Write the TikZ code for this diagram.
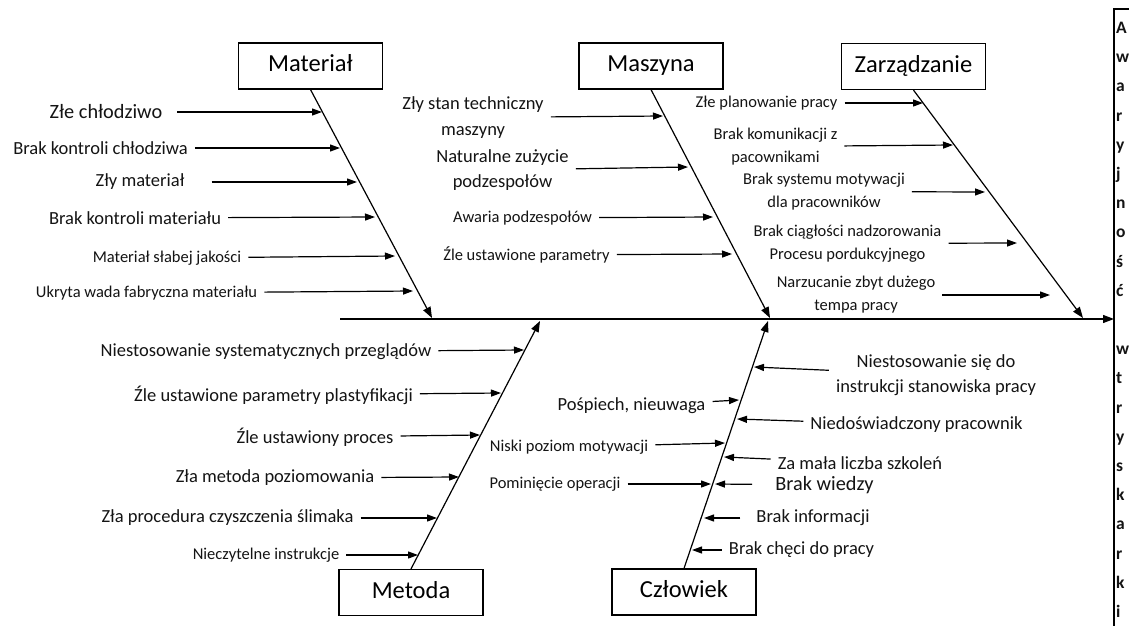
\documentclass[tikz,border=0pt]{standalone}
\usepackage{fontspec}
\setmainfont{Carlito}
\usetikzlibrary{arrows.meta,positioning}
\definecolor{inkGray}{RGB}{20,20,20}

\begin{document}
\begin{tikzpicture}[x=1pt,y=-1pt,
  category/.style={draw, line width=1.2pt, minimum width=144pt, minimum height=46pt, inner sep=0pt, text height=16pt, text depth=5pt, font=\fontsize{24.5}{28}\selectfont},
  bone/.style={line width=1.2pt, -{Triangle[length=11pt,width=8pt]}},
  causebig/.style={inner xsep=7pt, inner ysep=1pt, text=inkGray, font=\fontsize{20.3}{25}\selectfont},
  cause/.style={inner xsep=7pt, inner ysep=1pt, align=center, text=inkGray, font=\fontsize{18.5}{25.5}\selectfont},
  causesmall/.style={inner xsep=7pt, inner ysep=1pt, align=center, text=inkGray, font=\fontsize{16.5}{23}\selectfont},
  causearrow/.style={line width=1.2pt, -{Triangle[length=10pt,width=7pt]}}
]

% Frame of the picture
\useasboundingbox (0,0) rectangle (1129,626);
\fill[white] (0,0) rectangle (1129,626);

% Spine
\coordinate (tail) at (340,319);
\coordinate (head) at (1114,319);
\draw[bone] (tail) -- (head);

% Category boxes
\node[category] (mat) at (310.5,66) {Materiał};
\node[category] (mas) at (651,66) {Maszyna};
\node[category] (zar) at (913.5,66.5) {Zarządzanie};
\node[category] (met) at (411,592.5) {Metoda};
\node[category] (czl) at (684,592) {Człowiek};

% Bones towards the spine
\coordinate (matend) at (432,318);
\coordinate (masend) at (770,318);
\coordinate (zarend) at (1083,318);
\coordinate (metend) at (540,321);
\coordinate (czlend) at (768,321);
\draw[bone] (mat.south) -- (matend);
\draw[bone] (mas.south) -- (masend);
\draw[bone] (zar.south) -- (zarend);
\draw[bone] (met.north) -- (metend);
\draw[bone] (czl.north) -- (czlend);

% Materiał causes
\node[causebig] (mat1) at (106,112) {Złe chłodziwo};
\node[cause] (mat2) at (100.5,148) {Brak kontroli chłodziwa};
\node[cause] (mat3) at (140,182) {Zły materiał};
\node[cause] (mat4) at (135,218) {Brak kontroli materiału};
\node[causesmall] (mat5) at (167,258) {Materiał słabej jakości};
\node[causesmall] (mat6) at (146.5,293) {Ukryta wada fabryczna materiału};
\coordinate (pmat1) at (322,112);
\coordinate (pmat2) at (340,148);
\coordinate (pmat3) at (357,182);
\coordinate (pmat4) at (375,217);
\coordinate (pmat5) at (395,256);
\coordinate (pmat6) at (413,291);
\draw[causearrow, shorten <=8pt] (mat1) -- (pmat1);
\draw[causearrow] (mat2) -- (pmat2);
\draw[causearrow, shorten <=20pt] (mat3) -- (pmat3);
\draw[causearrow] (mat4) -- (pmat4);
\draw[causearrow] (mat5) -- (pmat5);
\draw[causearrow] (mat6) -- (pmat6);

% Maszyna causes
\node[cause] (mas1) at (473,117.5) {Zły stan techniczny\\maszyny};
\node[cause] (mas2) at (502.5,170) {Naturalne zużycie\\podzespołów};
\node[causesmall] (mas3) at (522.5,218) {Awaria podzespołów};
\node[causesmall] (mas4) at (526.5,255) {Źle ustawione parametry};
\coordinate (pmas1) at (663,116);
\coordinate (pmas2) at (688,167);
\coordinate (pmas3) at (713,217);
\coordinate (pmas4) at (732,254);
\foreach \i in {1,...,4} {
  \draw[causearrow] (mas\i) -- (pmas\i);
}

% Zarządzanie causes
\node[causesmall] (zar1) at (766.5,103) {Złe planowanie pracy};
\node[causesmall] (zar2) at (775.5,146.5) {Brak komunikacji z\\pacownikami};
\node[causesmall] (zar3) at (824,191.5) {Brak systemu motywacji\\dla pracowników};
\node[causesmall] (zar4) at (847.5,243.5) {Brak ciągłości nadzorowania\\Procesu pordukcyjnego};
\node[causesmall] (zar5) at (856,295) {Narzucanie zbyt dużego\\tempa pracy};
\coordinate (pzar1) at (923,103);
\coordinate (pzar2) at (953,145);
\coordinate (pzar3) at (985,192);
\coordinate (pzar4) at (1017,243);
\coordinate (pzar5) at (1050,295);
\foreach \i in {1,...,5} {
  \draw[causearrow] (zar\i) -- (pzar\i);
}

% Metoda causes
\node[cause] (met1) at (266,352) {Niestosowanie systematycznych przeglądów};
\node[cause] (met2) at (273.5,395) {Źle ustawione parametry plastyfikacji};
\node[cause] (met3) at (315,437) {Źle ustawiony proces};
\node[cause] (met4) at (275,478) {Zła metoda poziomowania};
\node[cause] (met5) at (227.5,518) {Zła procedura czyszczenia ślimaka};
\node[causesmall] (met6) at (266,555) {Nieczytelne instrukcje};
\coordinate (pmet1) at (524,350);
\coordinate (pmet2) at (501,393);
\coordinate (pmet3) at (480,435);
\coordinate (pmet4) at (459,477);
\coordinate (pmet5) at (437,518);
\coordinate (pmet6) at (418,555);
\foreach \i in {1,...,6} {
  \draw[causearrow] (met\i) -- (pmet\i);
}

% Człowiek causes (right side)
\node[cause] (czl1) at (936,375) {Niestosowanie się do\\instrukcji stanowiska pracy};
\node[cause] (czl2) at (916.5,425) {Niedoświadczony pracownik};
\node[cause] (czl3) at (860,463) {Za mała liczba szkoleń};
\node[causebig] (czl4) at (824.5,485) {Brak wiedzy};
\node[cause] (czl5) at (813,518) {Brak informacji};
\node[cause] (czl6) at (801.5,550) {Brak chęci do pracy};
\coordinate (pczl1) at (754,367);
\coordinate (pczl2) at (737,419);
\coordinate (pczl3) at (724,457);
\coordinate (pczl4) at (715,484);
\coordinate (pczl5) at (704,518);
\coordinate (pczl6) at (692,550);
\draw[causearrow] (czl1) -- (pczl1);
\draw[causearrow] (czl2) -- (pczl2);
\draw[causearrow] (czl3) -- (pczl3);
\draw[causearrow, shorten <=16pt] (czl4) -- (pczl4);
\draw[causearrow, shorten <=9pt] (czl5) -- (pczl5);
\draw[causearrow] (czl6) -- (pczl6);

% Człowiek causes (left side)
\node[cause] (czl7) at (631.5,406) {Pośpiech, nieuwaga};
\node[causesmall] (czl8) at (569,447) {Niski poziom motywacji};
\node[causesmall] (czl9) at (555,484) {Pominięcie operacji};
\coordinate (pczl7) at (739,400);
\coordinate (pczl8) at (725,443);
\coordinate (pczl9) at (711,484);
\foreach \i in {7,8,9} {
  \draw[causearrow] (czl\i) -- (pczl\i);
}

% Cut-off text box on the right
\draw[line width=1.2pt] (1129,9) -- (1114,9) -- (1114,626);
\node[anchor=north west, align=left, inner sep=0pt, text=inkGray, font=\bfseries\fontsize{17.5}{29.2}\selectfont] (sidetext) at (1116,22)
  {A\\w\\a\\r\\y\\j\\n\\o\\ś\\ć\\\mbox{}\\w\\t\\r\\y\\s\\k\\a\\r\\k\\i};

\end{tikzpicture}
\end{document}
